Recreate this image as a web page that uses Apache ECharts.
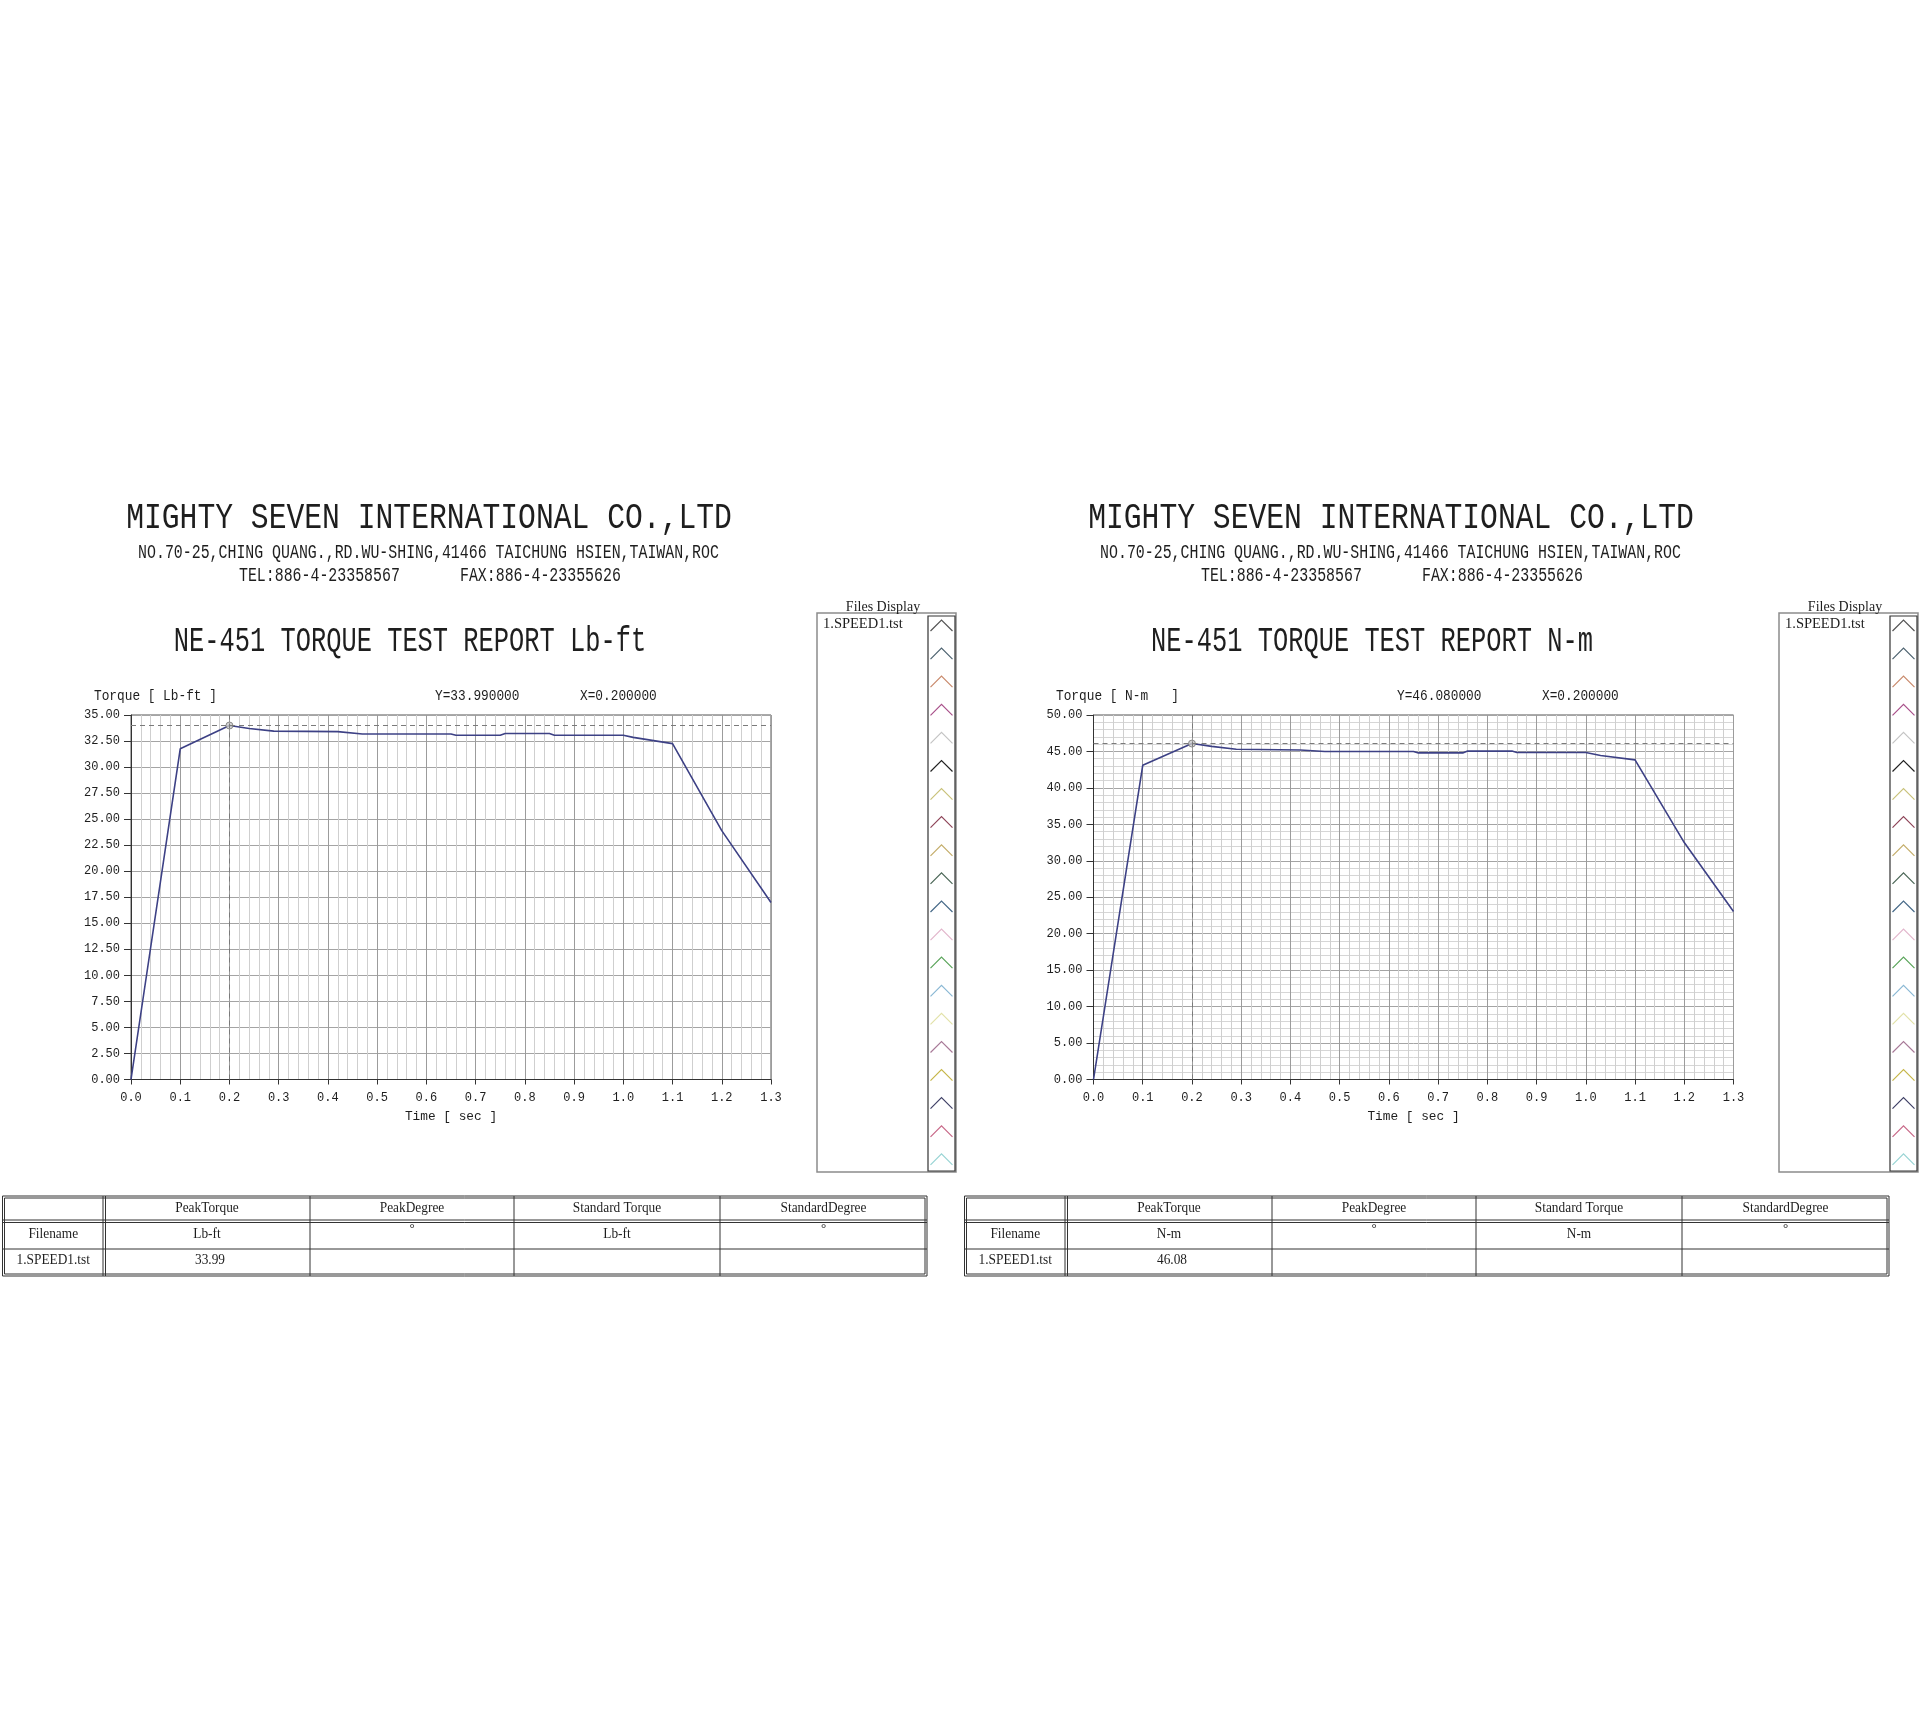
<!DOCTYPE html>
<html>
<head>
<meta charset="utf-8">
<script src="https://cdn.jsdelivr.net/npm/echarts@6/dist/echarts.min.js"></script>
<style>
  html, body { margin: 0; padding: 0; background: #fff; }
  #main { width: 1920px; height: 1734px; }
</style>
</head>
<body>
<div id="main"></div>
<script>
let timeLbft = [0, 0.1, 0.2, 0.24, 0.29, 0.42, 0.47, 0.65, 0.66, 0.75, 0.76, 0.85, 0.86, 1.0, 1.02, 1.1, 1.2, 1.3];
let torqueLbft = [0, 31.75, 33.99, 33.7, 33.45, 33.4, 33.18, 33.18, 33.05, 33.05, 33.22, 33.22, 33.05, 33.05, 32.85, 32.25, 23.9, 17.0];
let timeNm = [0, 0.1, 0.2, 0.24, 0.29, 0.42, 0.47, 0.65, 0.66, 0.75, 0.76, 0.85, 0.86, 1.0, 1.03, 1.1, 1.2, 1.3];
let torqueNm = [0, 43.1, 46.08, 45.7, 45.3, 45.2, 45.0, 45.0, 44.8, 44.8, 45.05, 45.05, 44.85, 44.85, 44.45, 43.85, 32.5, 23.05];
let peakLbft = [0.2, 33.99];
let peakNm = [0.2, 46.08];

let companyName = 'MIGHTY SEVEN INTERNATIONAL CO.,LTD';
let companyAddr = 'NO.70-25,CHING QUANG.,RD.WU-SHING,41466 TAICHUNG HSIEN,TAIWAN,ROC';
let companyTel = 'TEL:886-4-23358567';
let companyFax = 'FAX:886-4-23355626';
let tableHead = ['', 'PeakTorque', 'PeakDegree', 'Standard Torque', 'StandardDegree'];
let fileNames = ['1.SPEED1.tst'];
let iconColors = ['#555', '#4d6370', '#c98a6c', '#a8508a', '#c4c4c4', '#222', '#c9c27a', '#8e4458',
                  '#c4ad6a', '#4a6656', '#476a88', '#e2b6cc', '#5aa45a', '#8ab8d4', '#e2e2a8', '#a87a98',
                  '#c6b648', '#3f4066', '#c86888', '#98d4d4'];

let chart = echarts.init(document.getElementById('main'));
let MONO = '"Liberation Mono"';
let SERIF = '"Liberation Serif"';

function txt(x, y, s, size, align, sy, family, sx) {
    return {
        type: 'text', x: x, y: y, scaleY: sy || 1, scaleX: sx || 1, silent: true,
        style: {
            text: s, font: size + 'px ' + (family || MONO), fill: '#1e1e1e',
            align: align || 'center', verticalAlign: 'middle',
            textAlign: align || 'center', textVerticalAlign: 'middle'
        }
    };
}
function line(x1, y1, x2, y2, color, w) {
    return { type: 'line', silent: true, shape: { x1: x1, y1: y1, x2: x2, y2: y2 },
             style: { stroke: color || '#333', lineWidth: w || 1 } };
}

// one report panel (texts, files box, table), dx = horizontal offset
function panel(dx, unit, titleUnit, peak, unitPad) {
    let g = [];
    g.push(txt(429 + dx, 518, companyName, 29.7, 'center', 1.26));
    g.push(txt(428.5 + dx, 553, companyAddr, 14.9, 'center', 1.3));
    g.push(txt(239 + dx, 575.5, companyTel, 14.9, 'left', 1.3));
    g.push(txt(460 + dx, 575.5, companyFax, 14.9, 'left', 1.3));
    g.push(txt(410 + dx, 641.6, 'NE-451 TORQUE TEST REPORT ' + titleUnit, 25.4, 'center', 1.4));
    g.push(txt(94 + dx, 695.5, 'Torque [ ' + unitPad + ' ]', 12.8, 'left', 1.2));
    g.push(txt(435 + dx, 695.5, 'Y=' + peak[1].toFixed(6), 12.8, 'left', 1.2));
    g.push(txt(580 + dx, 695.5, 'X=' + peak[0].toFixed(6), 12.8, 'left', 1.2));

    // files display box
    g.push({ type: 'rect', silent: true, shape: { x: 817 + dx, y: 613, width: 139, height: 559 },
             style: { fill: '#fff', stroke: '#8c8c8c', lineWidth: 1.5 } });
    g.push({ type: 'rect', silent: true, shape: { x: 928 + dx, y: 616, width: 27, height: 555 },
             style: { fill: 'none', stroke: '#333', lineWidth: 1.2 } });
    g.push(txt(883 + dx, 607, 'Files Display', 14, 'center', 1, SERIF));
    g.push(txt(823 + dx, 624.5, fileNames[0], 14.5, 'left', 1, SERIF));
    iconColors.forEach(function (c, i) {
        let cx = 941.5 + dx, cy = 625 + i * 28.1;
        g.push({ type: 'polyline', silent: true,
                 shape: { points: [[cx - 11, cy + 6], [cx, cy - 5], [cx + 11, cy + 6]] },
                 style: { stroke: c, lineWidth: 1.2, fill: 'none' } });
    });

    // result table
    let cols = [2.5, 104, 310, 514, 720, 927].map(function (v) { return v + dx; });
    let rows = [1196, 1221, 1249, 1276];
    let L = cols[0], R = cols[5], T = rows[0], B = rows[3];
    g.push({ type: 'rect', silent: true, shape: { x: L, y: T, width: R - L, height: B - T },
             style: { fill: 'none', stroke: '#333', lineWidth: 1 } });
    g.push({ type: 'rect', silent: true, shape: { x: L + 2, y: T + 2, width: R - L - 4, height: B - T - 4 },
             style: { fill: 'none', stroke: '#333', lineWidth: 1 } });
    g.push(line(L, rows[1] - 1, R, rows[1] - 1));
    g.push(line(L, rows[1] + 1.5, R, rows[1] + 1.5));
    g.push(line(L, rows[2], R, rows[2]));
    g.push(line(cols[1] - 1, T, cols[1] - 1, B));
    g.push(line(cols[1] + 1.5, T, cols[1] + 1.5, B));
    for (let i = 2; i < 5; i++) g.push(line(cols[i], T, cols[i], B));
    let mid = function (i) { return (cols[i] + cols[i + 1]) / 2; };
    let fs = 14.5, sx = 0.92;
    for (let i = 1; i < 5; i++) g.push(txt(mid(i), (rows[0] + rows[1]) / 2, tableHead[i], fs, 'center', 1, SERIF, sx));
    g.push(txt(mid(0), (rows[1] + rows[2]) / 2 - 1, 'Filename', fs, 'center', 1, SERIF, sx));
    g.push(txt(mid(1), (rows[1] + rows[2]) / 2 - 1, unit, fs, 'center', 1, SERIF, sx));
    g.push(txt(mid(2), rows[1] + 8, '°', 13, 'center', 1, SERIF));
    g.push(txt(mid(3), (rows[1] + rows[2]) / 2 - 1, unit, fs, 'center', 1, SERIF, sx));
    g.push(txt(mid(4), rows[1] + 8, '°', 13, 'center', 1, SERIF));
    g.push(txt(mid(0), (rows[2] + rows[3]) / 2 - 2, fileNames[0], fs, 'center', 1, SERIF, sx));
    g.push(txt(mid(1) + 3, (rows[2] + rows[3]) / 2 - 2, peak[1].toFixed(2), fs, 'center', 1, SERIF, sx));
    return g;
}

function xAxisOpt(idx) {
    return {
        type: 'value', gridIndex: idx, min: 0, max: 1.3, interval: 0.1,
        name: 'Time [ sec ]', nameLocation: 'middle', nameGap: 31,
        nameTextStyle: { fontFamily: 'Liberation Mono', fontSize: 12.8, color: '#1e1e1e' },
        axisLine: { show: true, lineStyle: { color: '#333' } },
        axisTick: { show: true, length: 5, lineStyle: { color: '#333' } },
        axisLabel: { margin: 12, fontFamily: 'Liberation Mono', fontSize: 12, color: '#1e1e1e',
                     formatter: function (v) { return v.toFixed(1); } },
        splitLine: { show: true, lineStyle: { color: '#9c9c9c', width: 1 } },
        minorTick: { show: false, splitNumber: 5 },
        minorSplitLine: { show: true, lineStyle: { color: '#cfcfcf', width: 1 } }
    };
}
function yAxisOpt(idx, max, step, minor) {
    return {
        type: 'value', gridIndex: idx, min: 0, max: max, interval: step,
        axisLine: { show: true, lineStyle: { color: '#333' } },
        axisTick: { show: true, length: 7, lineStyle: { color: '#333' } },
        axisLabel: { margin: 11, fontFamily: 'Liberation Mono', fontSize: 12, color: '#1e1e1e',
                     formatter: function (v) { return v.toFixed(2); } },
        splitLine: { show: true, lineStyle: { color: '#a4a4a4', width: 1 } },
        minorTick: { show: false, splitNumber: 5 },
        minorSplitLine: { show: minor, lineStyle: { color: '#d6d6d6', width: 1 } }
    };
}
function lineSeries(idx, xs, ys, peak) {
    return {
        type: 'line', xAxisIndex: idx, yAxisIndex: idx,
        data: xs.map(function (x, i) { return [x, ys[i]]; }),
        showSymbol: false, symbol: 'none',
        lineStyle: { color: '#3d4185', width: 1.6 },
        markLine: {
            silent: true, symbol: 'none', label: { show: false },
            lineStyle: { color: '#7a7a7a', type: [5, 4], width: 1 },
            data: [{ yAxis: peak[1] }, { xAxis: peak[0] }]
        },
        z: 3
    };
}
function peakSeries(idx, peak) {
    return {
        type: 'scatter', xAxisIndex: idx, yAxisIndex: idx, data: [peak],
        symbol: 'circle', symbolSize: 7,
        itemStyle: { color: '#c9c9c9', borderColor: '#777', borderWidth: 1 }, z: 4
    };
}

let option = {
    animation: false,
    backgroundColor: '#fff',
    grid: [
        { left: 131, top: 715, width: 640, height: 364.5, show: true, borderColor: '#555', borderWidth: 1, backgroundColor: 'transparent' },
        { left: 1093.5, top: 715, width: 640, height: 364.5, show: true, borderColor: '#555', borderWidth: 1, backgroundColor: 'transparent' }
    ],
    xAxis: [xAxisOpt(0), xAxisOpt(1)],
    yAxis: [yAxisOpt(0, 35, 2.5, false), yAxisOpt(1, 50, 5, true)],
    series: [
        lineSeries(0, timeLbft, torqueLbft, peakLbft),
        peakSeries(0, peakLbft),
        lineSeries(1, timeNm, torqueNm, peakNm),
        peakSeries(1, peakNm)
    ],
    graphic: panel(0, 'Lb-ft', 'Lb-ft', peakLbft, 'Lb-ft').concat(panel(962, 'N-m', 'N-m', peakNm, 'N-m  '))
};
chart.setOption(option);
</script>
</body>
</html>
